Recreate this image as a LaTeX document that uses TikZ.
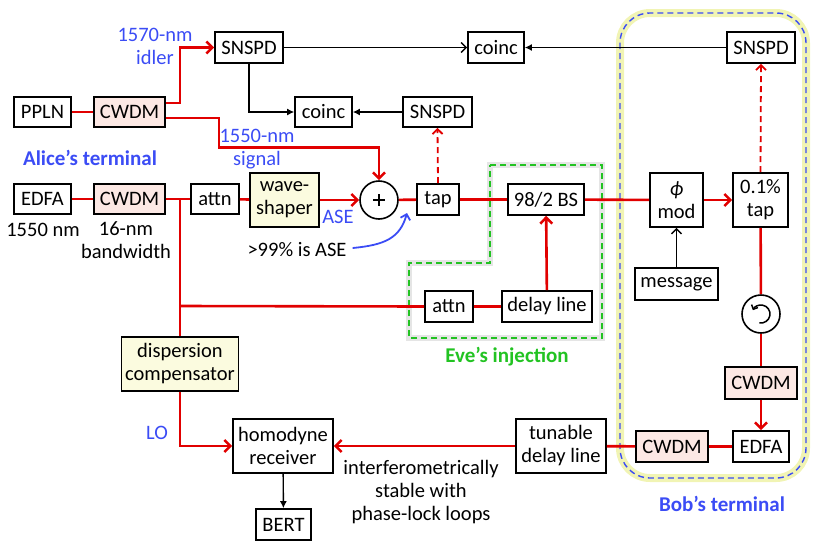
\documentclass[tikz,border=0pt]{standalone}
\usepackage{fontspec}
\setmainfont{Carlito}
\usetikzlibrary{arrows.meta,calc}
\definecolor{fib}{HTML}{E10000}
\definecolor{lblue}{HTML}{3B4CF5}
\definecolor{lgreen}{HTML}{22C322}
\definecolor{pinkf}{HTML}{FCE8E4}
\definecolor{yelf}{HTML}{FBFBDF}
\definecolor{glow}{HTML}{F1F4B4}
\tikzset{
  bx/.style={draw, line width=1.6pt, fill=white, inner sep=0pt, align=center},
  pk/.style={bx, fill=pinkf},
  yl/.style={bx, fill=yelf},
  fiber/.style={draw=fib, line width=2.6pt},
  farrow/.style={fiber, -{Straight Barb[length=6pt,width=12pt]}},
  tapline/.style={draw=fib, line width=1.8pt, dash pattern=on 6pt off 4pt, -{Straight Barb[length=5pt,width=10pt]}},
  elec/.style={draw=black, line width=1.4pt, -{Latex[length=7pt,width=7pt]}},
  elecopen/.style={draw=black, line width=1.4pt, -{Straight Barb[length=5pt,width=10pt]}},
  lbl/.style={text=lblue, align=center, inner sep=0pt},
  txt/.style={align=center, inner sep=0pt},
  bigbold/.style={font=\fontsize{21}{23}\selectfont\bfseries},
}
\begin{document}
\begin{tikzpicture}[x=1pt,y=-1pt, font=\fontsize{20.5}{23}\selectfont]
\useasboundingbox (0,0) rectangle (830,552);

% Bob's terminal outline
\draw[glow, line width=8pt, rounded corners=30pt] (620,13) rectangle (806,478);
\draw[lblue, line width=1.4pt, dash pattern=on 6pt off 4pt, rounded corners=30pt] (620,13) rectangle (806,478);

% Eve's injection outline
\draw[black!10, line width=6pt] (490,165) -- (602,165) -- (602,338) -- (409,338) -- (409,263) -- (490,263) -- cycle;
\draw[lgreen, line width=1.6pt, dash pattern=on 6pt off 4pt] (490,165) -- (602,165) -- (602,338) -- (409,338) -- (409,263) -- (490,263) -- cycle;

% Nodes
\node[bx, minimum width=57, minimum height=30] (ppln) at (42.5,112) {PPLN};
\node[pk, minimum width=71, minimum height=30] (cwdmA) at (129.5,112) {CWDM};
\node[bx, minimum width=68, minimum height=31] (snspdA) at (249,47.5) {SNSPD};
\node[bx, minimum width=57, minimum height=30] (coincM) at (323.5,112) {coinc};
\node[bx, minimum width=56, minimum height=31] (coincT) at (496,47.5) {coinc};
\node[bx, minimum width=68, minimum height=31] (snspdB) at (761,47.5) {SNSPD};
\node[bx, minimum width=69, minimum height=30] (snspdM) at (437.5,112) {SNSPD};

\node[bx, minimum width=57, minimum height=30] (edfaA) at (42.5,199) {EDFA};
\node[pk, minimum width=71, minimum height=30] (cwdmA2) at (129.5,199) {CWDM};
\node[bx, minimum width=48, minimum height=30] (attnA) at (215,199) {attn};
\node[yl, minimum width=69, minimum height=54] (wave) at (284.5,200) {wave-\\shaper};
\node[draw, circle, line width=1.6pt, fill=white, minimum size=38, inner sep=0pt] (plus) at (379,200) {};
\draw[line width=1.6pt] ($(plus)+(-6,0)$) -- ($(plus)+(6,0)$) ($(plus)+(0,-6)$) -- ($(plus)+(0,6)$);
\node[bx, minimum width=42, minimum height=31] (tap) at (438,199.5) {tap};
\node[bx, minimum width=76, minimum height=31] (bs) at (546,199.5) {98/2 BS};
\node[bx, minimum width=53, minimum height=54] (phimod) at (676.5,200) {\textit{ϕ}\\mod};
\node[bx, minimum width=55, minimum height=54] (tap01) at (760.5,200) {0.1\%\\tap};
\node[bx, minimum width=83, minimum height=32] (message) at (676.5,284) {message};
\node[bx, minimum width=48, minimum height=31] (attnE) at (449,306.5) {attn};
\node[bx, minimum width=90, minimum height=31] (delay) at (547,306.5) {delay line};
\node[draw, circle, line width=1.6pt, fill=white, minimum size=38, inner sep=0pt] (circ) at (761,314) {};
\draw[line width=1.5pt, -{Straight Barb[length=3.5pt,width=7pt]}] ($(circ)+(100:9)$) arc[start angle=100, end angle=-155, radius=9];
\node[yl, minimum width=117, minimum height=54] (disp) at (180,364) {dispersion\\compensator};
\node[pk, minimum width=72, minimum height=32] (cwdmB1) at (761,383) {CWDM};
\node[bx, minimum width=56, minimum height=31] (edfaB) at (761,446.5) {EDFA};
\node[pk, minimum width=72, minimum height=31] (cwdmB2) at (672,446.5) {CWDM};
\node[bx, minimum width=90, minimum height=54] (tunable) at (561,446) {tunable\\delay line};
\node[bx, minimum width=100, minimum height=54] (homo) at (283,446) {homodyne\\receiver};
\node[bx, minimum width=55, minimum height=31] (bert) at (283.5,524.5) {BERT};

% Labels
\node[lbl] (l1570) at (155,46) {1570-nm\\idler};
\node[lbl] (l1550) at (257,149) {1550-nm\\signal};
\node[lbl, bigbold] (alice) at (90,158) {Alice’s terminal};
\node[txt] (l1550nm) at (43,230) {1550 nm};
\node[txt] (lbw) at (126,240) {16-nm\\bandwidth};
\node[lbl] (lase) at (338,217) {ASE};
\node[txt] (note) at (297,250) {>99\% is ASE};
\node[lbl, text=lgreen, bigbold] (eve) at (507,357) {Eve’s injection};
\node[lbl] (llo) at (157,433) {LO};
\node[txt] (interf) at (421,492) {interferometrically\\stable with\\phase-lock loops};
\node[lbl, bigbold] (bob) at (722,504) {Bob’s terminal};

% Junction points
\coordinate (j1) at (180,199);
\coordinate (j2) at (180,306);
\coordinate (aseend) at (407,213);

% Fiber connections
\draw[fiber] (ppln) -- (cwdmA);
\draw[farrow] ([yshift=9pt]cwdmA.east) -- ++(14,0) |- (snspdA.west);
\draw[farrow] ([yshift=-6pt]cwdmA.east) -- ++(53,0) |- ([yshift=33pt]plus.north) -- (plus.north);
\draw[fiber] (edfaA) -- (cwdmA2);
\draw[fiber] (cwdmA2) -- (attnA);
\draw[fiber] (attnA) -- (wave);
\draw[farrow] (wave) -- (plus);
\draw[fiber] (plus) -- (tap);
\draw[fiber] (tap) -- (bs);
\draw[fiber] (bs) -- (phimod);
\draw[farrow] (phimod) -- (tap01);
\draw[fiber] (j1) -- (disp.north);
\draw[fiber] (j2) -- (attnE.west);
\draw[fiber] (attnE) -- (delay);
\draw[farrow] (delay) -- (bs);
\draw[fiber] (tap01) -- (circ);
\draw[fiber] (circ) -- (cwdmB1);
\draw[farrow] (cwdmB1) -- (edfaB);
\draw[fiber] (edfaB) -- (cwdmB2);
\draw[fiber] (cwdmB2) -- (tunable);
\draw[farrow] (tunable) -- (homo);
\draw[farrow] (disp.south) |- (homo.west);

% Tapped (dashed) lines
\draw[tapline] (tap.north) -- (snspdM.south);
\draw[tapline] (tap01.north) -- (snspdB.south);

% Electrical lines
\draw[elecopen] (snspdA) -- (coincT);
\draw[elec] (snspdA.south) |- (coincM.west);
\draw[elec] (snspdM) -- (coincM);
\draw[elec] (snspdB) -- (coincT);
\draw[elecopen] (message) -- (phimod);
\draw[elec] (homo) -- (bert);

% ASE note arrow
\draw[lblue, line width=1.8pt, -{Straight Barb[length=5pt,width=10pt]}] ([xshift=6pt,yshift=2pt]note.east) .. controls (385,245) and (400,238) .. (aseend);
\end{tikzpicture}
\end{document}
